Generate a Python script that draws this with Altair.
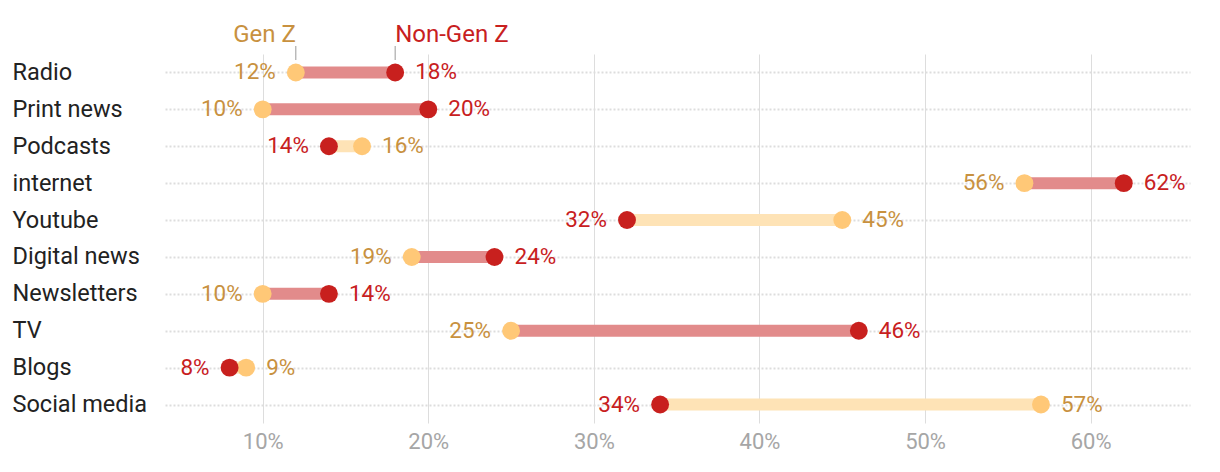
import altair as alt
import pandas as pd

categories = ["Radio", "Print news", "Podcasts", "internet", "Youtube",
              "Digital news", "Newsletters", "TV", "Blogs", "Social media"]
gen_z = [12, 10, 16, 56, 45, 19, 10, 25, 9, 57]
non_gen_z = [18, 20, 14, 62, 32, 24, 14, 46, 8, 34]
x_ticks = [10, 20, 30, 40, 50, 60]

GENZ_DOT = "#ffc877"
GENZ_TXT = "#c8913f"
NON_DOT = "#c8201e"
NON_TXT = "#c8201e"
RED_BAR = "#e28b8b"
YEL_BAR = "#fee3b6"

wide = pd.DataFrame({"category": categories, "genz": gen_z, "nongen": non_gen_z})

rows = []
for c, g, n in zip(categories, gen_z, non_gen_z):
    rows.append({"category": c, "series": "Gen Z", "value": g, "side": "left" if g < n else "right"})
    rows.append({"category": c, "series": "Non-Gen Z", "value": n, "side": "left" if n < g else "right"})
long = pd.DataFrame(rows)

header = pd.DataFrame({"series": ["Gen Z", "Non-Gen Z"], "value": [gen_z[0], non_gen_z[0]]})

xscale = alt.Scale(domain=[4.1, 66], nice=False, zero=False)
yenc = alt.Y("category:N", sort=categories, scale=alt.Scale(type="point", padding=0.5),
             axis=alt.Axis(title=None, domain=False, ticks=False, tickSize=0, labelAlign="left",
                           labelPadding=153, labelFontSize=23.5, labelColor="#222222",
                           labelFont="Roboto", grid=True, gridDash=[2, 2], gridColor="#dddddd",
                           gridWidth=2))
xenc = alt.X("genz:Q", scale=xscale,
             axis=alt.Axis(title=None, values=x_ticks, labelExpr="datum.value + '%'",
                           domain=False, ticks=False, tickSize=0, labelPadding=8,
                           labelFontSize=22, labelColor="#a6a6a6", labelFont="Roboto",
                           grid=True, gridColor="#dddddd", gridWidth=1))

dot_color = alt.condition("datum.series == 'Gen Z'", alt.value(GENZ_DOT), alt.value(NON_DOT))
txt_color = alt.condition("datum.series == 'Gen Z'", alt.value(GENZ_TXT), alt.value(NON_TXT))

bars = alt.Chart(wide).mark_rule(strokeWidth=12, strokeCap="butt").encode(
    x=xenc,
    x2="nongen:Q",
    y=yenc,
    color=alt.condition("datum.genz < datum.nongen", alt.value(RED_BAR), alt.value(YEL_BAR)),
)

dots = alt.Chart(long).mark_circle(size=320, opacity=1).encode(
    x=alt.X("value:Q", scale=xscale),
    y=alt.Y("category:N", sort=categories),
    color=dot_color,
)

base_txt = alt.Chart(long).transform_calculate(label="datum.value + '%'")
left_lbl = base_txt.transform_filter("datum.side == 'left'").mark_text(
    align="right", baseline="middle", dx=-20, fontSize=22.5, font="Roboto").encode(
    x=alt.X("value:Q", scale=xscale),
    y=alt.Y("category:N", sort=categories),
    text="label:N",
    color=txt_color,
)
right_lbl = base_txt.transform_filter("datum.side == 'right'").mark_text(
    align="left", baseline="middle", dx=20, fontSize=22.5, font="Roboto").encode(
    x=alt.X("value:Q", scale=xscale),
    y=alt.Y("category:N", sort=categories),
    text="label:N",
    color=txt_color,
)

head_ticks = alt.Chart(header).mark_rule(color="#999999", strokeWidth=1).encode(
    x=alt.X("value:Q", scale=xscale),
    y=alt.value(-8),
    y2=alt.value(6),
)
head_genz = alt.Chart(header).transform_filter("datum.series == 'Gen Z'").mark_text(
    align="right", baseline="alphabetic", fontSize=24, font="Roboto", color=GENZ_TXT).encode(
    x=alt.X("value:Q", scale=xscale),
    y=alt.value(-12),
    text="series:N",
)
head_non = alt.Chart(header).transform_filter("datum.series == 'Non-Gen Z'").mark_text(
    align="left", baseline="alphabetic", fontSize=24, font="Roboto", color=NON_TXT).encode(
    x=alt.X("value:Q", scale=xscale),
    y=alt.value(-12),
    text="series:N",
)

chart = alt.layer(bars, dots, left_lbl, right_lbl, head_ticks, head_genz, head_non).properties(
    width=1025,
    height=369,
    autosize=alt.AutoSizeParams(type="none"),
    padding={"left": 157, "top": 46, "right": 22, "bottom": 41},
).configure(font="Roboto").configure_view(stroke=None)

chart.save("out.html", embed_options={"renderer": "svg", "actions": False})
